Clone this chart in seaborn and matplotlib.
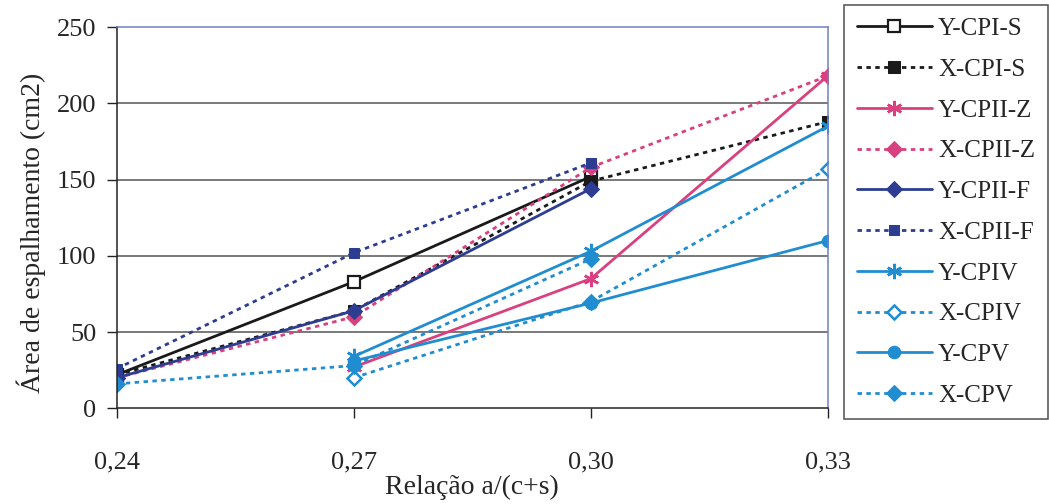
import numpy as np
import pandas as pd
import seaborn as sns
import matplotlib.pyplot as plt

# Relação água/(cimento+sílica) e área de espalhamento (cm2)
relacao = [0.24, 0.27, 0.30, 0.33]
tick_labels = ["0,24", "0,27", "0,30", "0,33"]

y_cpi_s = [22, 83, 152, np.nan]
x_cpi_s = [22, 64, 149, 188]
y_cpii_z = [np.nan, 27, 85, 218]
x_cpii_z = [20, 60, 158, 218]
y_cpii_f = [20, 64, 144, np.nan]
x_cpii_f = [26, 102, 161, np.nan]
y_cpiv = [np.nan, 34, 103, 185]
x_cpiv = [np.nan, 20, 70, 157]
y_cpv = [np.nan, 31, 69, 110]
x_cpv = [16, 28, 98, np.nan]

series = [
    ("Y-CPI-S", y_cpi_s), ("X-CPI-S", x_cpi_s),
    ("Y-CPII-Z", y_cpii_z), ("X-CPII-Z", x_cpii_z),
    ("Y-CPII-F", y_cpii_f), ("X-CPII-F", x_cpii_f),
    ("Y-CPIV", y_cpiv), ("X-CPIV", x_cpiv),
    ("Y-CPV", y_cpv), ("X-CPV", x_cpv),
]

black = "#1a1a1a"
pink = "#d8407f"
navy = "#2c3d92"
blue = "#1f8dd0"
asterisk = (6, 2, 0)
dotted = (0, (1.6, 1.6))

styles = {
    "Y-CPI-S": dict(color=black, ls="-", marker="s", ms=9, mfc="white", mec=black, mew=1.6),
    "X-CPI-S": dict(color=black, ls=dotted, marker="s", ms=9, mfc=black, mec=black),
    "Y-CPII-Z": dict(color=pink, ls="-", marker=asterisk, ms=11, mec=pink, mew=1.8),
    "X-CPII-Z": dict(color=pink, ls=dotted, marker="D", ms=8, mfc=pink, mec=pink),
    "Y-CPII-F": dict(color=navy, ls="-", marker="D", ms=8, mfc=navy, mec=navy),
    "X-CPII-F": dict(color=navy, ls=dotted, marker="s", ms=7, mfc=navy, mec=navy),
    "Y-CPIV": dict(color=blue, ls="-", marker=asterisk, ms=11, mec=blue, mew=1.8),
    "X-CPIV": dict(color=blue, ls=dotted, marker="D", ms=7, mfc="white", mec=blue, mew=1.8),
    "Y-CPV": dict(color=blue, ls="-", marker="o", ms=9, mfc=blue, mec=blue),
    "X-CPV": dict(color=blue, ls=dotted, marker="D", ms=8, mfc=blue, mec=blue),
}

rows = []
for nome, vals in series:
    for r, v in zip(relacao, vals):
        rows.append({"relacao": r, "area": v, "serie": nome})
df = pd.DataFrame(rows)

sns.set_theme(style="white")
plt.rcParams["font.family"] = ["Liberation Serif", "DejaVu Serif"]

fig = plt.figure(figsize=(10.49, 5.04), dpi=100)
ax = fig.add_axes([0.1115, 0.190, 0.6775, 0.756])

for nome, _ in series:
    st = dict(styles[nome])
    ls = st.pop("ls")
    sub = df[df["serie"] == nome].dropna()
    sns.lineplot(data=sub, x="relacao", y="area", ax=ax, label=nome,
                 linestyle=ls, linewidth=2.0, estimator=None, sort=True,
                 errorbar=None, **st)

ax.set_xlim(0.24, 0.33)
ax.set_ylim(0, 250)
ax.set_xticks(relacao)
ax.set_xticklabels(tick_labels)
ax.set_yticks([0, 50, 100, 150, 200, 250])

for yv in [50, 100, 150, 200]:
    ax.axhline(yv, color="#555555", lw=1.1, zorder=0)

for side in ["left", "bottom"]:
    ax.spines[side].set_color("#222222")
    ax.spines[side].set_linewidth(1.1)
for side in ["top", "right"]:
    ax.spines[side].set_color("#6f7fc8")
    ax.spines[side].set_linewidth(1.1)

ax.tick_params(axis="both", which="major", direction="out", length=7, width=1,
               color="#222222", labelsize=19, left=True, bottom=True)
ax.tick_params(axis="x", pad=24)
ax.tick_params(axis="y", pad=8)

ax.set_xlabel("Relação a/(c+s)", fontsize=20)
ax.xaxis.set_label_coords(0.5, -0.175)
ax.set_ylabel("Área de espalhamento (cm2)", fontsize=20)
ax.yaxis.set_label_coords(-0.10, 0.46)

handles, labels = ax.get_legend_handles_labels()
ax.get_legend().remove()
leg = fig.legend(handles, labels, loc="upper left", bbox_to_anchor=(0.805, 0.99),
                 fontsize=18, frameon=True, fancybox=False, edgecolor="#222222",
                 handlelength=3.0, handletextpad=0.25, labelspacing=0.73,
                 borderpad=0.5, borderaxespad=0)
leg.get_frame().set_linewidth(1.1)

fig.savefig("out.png", dpi=100, facecolor="white")
